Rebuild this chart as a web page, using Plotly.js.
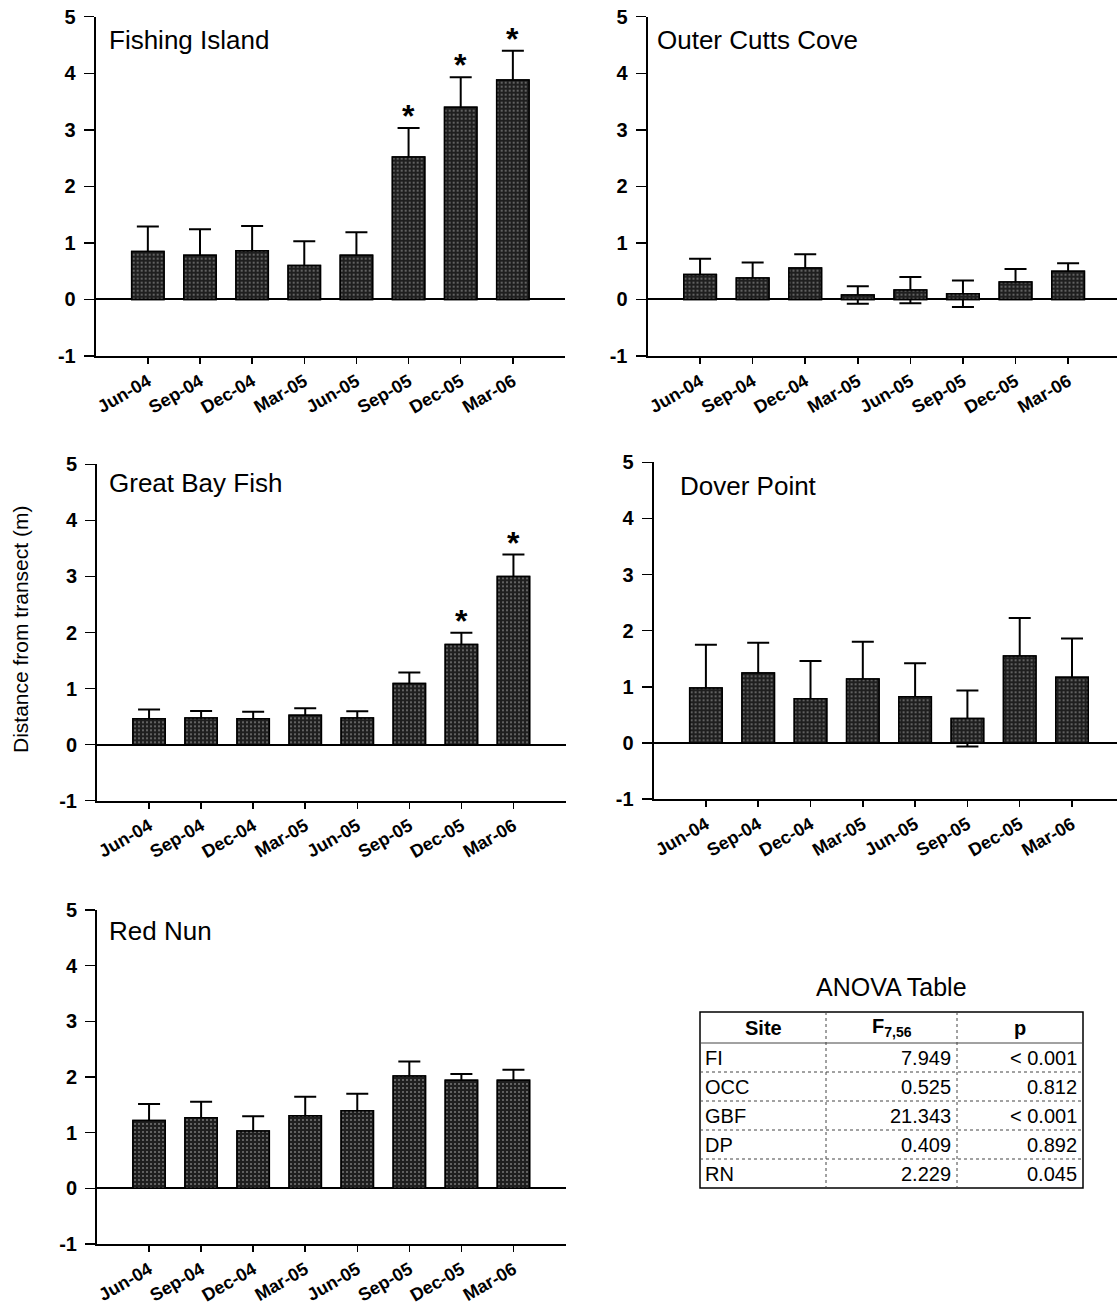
<!DOCTYPE html>
<html>
<head>
<meta charset="utf-8">
<script src="https://cdn.plot.ly/plotly-3.0.1.min.js"></script>
<style>
  html, body { margin: 0; padding: 0; background: #fff; }
  #chart { width: 1117px; height: 1304px; }
</style>
</head>
<body>
<div id="chart"></div>
<script>
// Sampling dates (x categories)
const months = ['Jun-04', 'Sep-04', 'Dec-04', 'Mar-05', 'Jun-05', 'Sep-05', 'Dec-05', 'Mar-06'];

// y tick values and their labels (plain hyphen for the minus sign)
const yTickVals = [-1, 0, 1, 2, 3, 4, 5];
const yTickText = ['-1', '0', '1', '2', '3', '4', '5'];

// Mean distance from transect (m) and standard error, per site
const fishingIslandMean = [0.85, 0.78, 0.86, 0.60, 0.78, 2.52, 3.40, 3.88];
const fishingIslandSE   = [0.44, 0.46, 0.44, 0.43, 0.41, 0.51, 0.53, 0.52];
const fishingIslandSig  = [0, 0, 0, 0, 0, 1, 1, 1];

const outerCuttsMean = [0.44, 0.38, 0.555, 0.08, 0.165, 0.10, 0.31, 0.50];
const outerCuttsSE   = [0.28, 0.275, 0.245, 0.155, 0.23, 0.235, 0.23, 0.14];
const outerCuttsSig  = [0, 0, 0, 0, 0, 0, 0, 0];

const greatBayMean = [0.46, 0.475, 0.46, 0.525, 0.475, 1.09, 1.785, 3.00];
const greatBaySE   = [0.165, 0.125, 0.125, 0.125, 0.12, 0.195, 0.21, 0.39];
const greatBaySig  = [0, 0, 0, 0, 0, 0, 1, 1];

const doverPointMean = [0.98, 1.245, 0.785, 1.137, 0.82, 0.435, 1.55, 1.17];
const doverPointSE   = [0.77, 0.54, 0.675, 0.663, 0.60, 0.50, 0.675, 0.69];
const doverPointSig  = [0, 0, 0, 0, 0, 0, 0, 0];

const redNunMean = [1.22, 1.27, 1.03, 1.305, 1.395, 2.02, 1.94, 1.94];
const redNunSE   = [0.295, 0.287, 0.263, 0.342, 0.305, 0.26, 0.114, 0.19];
const redNunSig  = [0, 0, 0, 0, 0, 0, 0, 0];

const siteNames = ['Fishing Island', 'Outer Cutts Cove', 'Great Bay Fish', 'Dover Point', 'Red Nun'];

// ANOVA results
const anovaHeader = ['Site', 'F<sub>7,56</sub>', 'p'];
const anovaSite = ['FI', 'OCC', 'GBF', 'DP', 'RN'];
const anovaF    = ['7.949', '0.525', '21.343', '0.409', '2.229'];
const anovaP    = ['&lt; 0.001', '0.812', '&lt; 0.001', '0.892', '0.045'];

const yTitle = 'Distance from transect (m)';

// ---- layout helpers (pixel positions -> paper fractions) ----
const W = 1117, H = 1304;
const fx = v => v / W;
const fy = v => 1 - v / H;
const FONT = 'Liberation Sans, Arial, Helvetica, sans-serif';

const series = [
  { mean: fishingIslandMean, se: fishingIslandSE, sig: fishingIslandSig },
  { mean: outerCuttsMean,    se: outerCuttsSE,    sig: outerCuttsSig },
  { mean: greatBayMean,      se: greatBaySE,      sig: greatBaySig },
  { mean: doverPointMean,    se: doverPointSE,    sig: doverPointSig },
  { mean: redNunMean,        se: redNunSE,        sig: redNunSig }
];

// plot boxes in pixels: [left, right], [top, bottom]
const boxes = [
  { x: [95.7, 565],   y: [16.7, 356],    xr: [-1, 8],    title: [107, 40] },
  { x: [647.5, 1117], y: [16.7, 356],    xr: [-1, 7.93], title: [655, 40] },
  { x: [97, 565.5],   y: [464.3, 800.7], xr: [-1, 8],    title: [107, 483] },
  { x: [653.6, 1117], y: [462.3, 799],   xr: [-1, 7.86], title: [678, 486] },
  { x: [97, 565.5],   y: [910, 1244],    xr: [-1, 8],    title: [107, 931] }
];

const data = [];
const layout = {
  width: W, height: H,
  margin: { l: 0, r: 0, t: 0, b: 0 },
  paper_bgcolor: '#fff', plot_bgcolor: 'rgba(0,0,0,0)',
  showlegend: false,
  barmode: 'overlay',
  font: { family: FONT, color: '#000' },
  annotations: [],
  shapes: []
};

const barMarker = {
  color: '#262626',
  line: { color: '#000', width: 1.5 },
  pattern: { shape: '.', fgcolor: '#777777', bgcolor: '#1f1f1f', size: 4, solidity: 0.2 }
};

series.forEach((s, i) => {
  const n = i === 0 ? '' : String(i + 1);
  const xa = 'x' + n, ya = 'y' + n;
  // bars carrying symmetric error bars
  data.push({
    type: 'bar', x: months, y: s.mean, xaxis: xa, yaxis: ya, width: 0.62,
    marker: barMarker,
    error_y: { type: 'data', array: s.se, symmetric: true, color: '#000', thickness: 2, width: 11 },
    hoverinfo: 'skip'
  });
  // same bars drawn again on top so the lower whisker stays hidden inside the bar
  data.push({
    type: 'bar', x: months, y: s.mean, xaxis: xa, yaxis: ya, width: 0.62,
    marker: barMarker, hoverinfo: 'skip'
  });
  // significance markers just above the error-bar caps
  s.sig.forEach((f, k) => {
    if (!f) return;
    layout.annotations.push({
      xref: xa, yref: ya, x: months[k], y: s.mean[k] + s.se[k],
      xanchor: 'center', yanchor: 'bottom', yshift: -8, showarrow: false, text: '*',
      font: { family: FONT, size: 32, weight: 700, color: '#000' }
    });
  });

  const b = boxes[i];
  layout['xaxis' + n] = {
    domain: [fx(b.x[0]), Math.min(1, fx(b.x[1]))],
    anchor: ya, type: 'category', range: b.xr,
    showline: true, linecolor: '#000', linewidth: 2,
    ticks: 'outside', ticklen: 6, tickwidth: 1.5, tickcolor: '#000',
    tickangle: -30, showgrid: false, zeroline: false,
    tickfont: { family: FONT, size: 18, weight: 700, color: '#000' }
  };
  layout['yaxis' + n] = {
    domain: [fy(b.y[1]), fy(b.y[0])],
    anchor: xa, range: [-1, 5],
    tickmode: 'array', tickvals: yTickVals, ticktext: yTickText,
    showline: true, linecolor: '#000', linewidth: 2,
    ticks: 'outside', ticklen: 10, tickwidth: 1.5, tickcolor: '#000',
    ticklabelstandoff: 4,
    showgrid: false, zeroline: true, zerolinecolor: '#000', zerolinewidth: 2,
    tickfont: { family: FONT, size: 20, weight: 700, color: '#000' }
  };
  layout.annotations.push({
    xref: 'paper', yref: 'paper', x: fx(b.title[0]), y: fy(b.title[1]),
    xanchor: 'left', yanchor: 'middle', showarrow: false, text: siteNames[i],
    font: { family: FONT, size: 26, color: '#000' }
  });
});

// shared y-axis title
layout.annotations.push({
  xref: 'paper', yref: 'paper', x: fx(20), y: fy(630), textangle: -90,
  xanchor: 'center', yanchor: 'middle', showarrow: false, text: yTitle,
  font: { family: FONT, size: 21, color: '#000' }
});

// ---- ANOVA table, drawn with shapes and annotations ----
const colEdges = [700, 826, 957, 1083];
const rowEdges = [1012, 1043, 1072, 1101, 1130, 1159, 1188];

layout.annotations.push({
  xref: 'paper', yref: 'paper', x: fx((colEdges[0] + colEdges[3]) / 2), y: fy(987),
  xanchor: 'center', yanchor: 'middle', showarrow: false, text: 'ANOVA Table',
  font: { family: FONT, size: 25, color: '#000' }
});

// outer frame
layout.shapes.push({
  type: 'rect', xref: 'paper', yref: 'paper',
  x0: fx(colEdges[0]), x1: fx(colEdges[3]), y0: fy(rowEdges[rowEdges.length - 1]), y1: fy(rowEdges[0]),
  line: { color: '#000', width: 1.5 }, fillcolor: 'rgba(0,0,0,0)'
});
// inner grid lines
for (let r = 1; r < rowEdges.length - 1; r++) {
  layout.shapes.push({
    type: 'line', xref: 'paper', yref: 'paper',
    x0: fx(colEdges[0]), x1: fx(colEdges[3]), y0: fy(rowEdges[r]), y1: fy(rowEdges[r]),
    line: { color: '#444', width: 1, dash: r === 1 ? 'solid' : 'dot' }
  });
}
for (let c = 1; c < colEdges.length - 1; c++) {
  layout.shapes.push({
    type: 'line', xref: 'paper', yref: 'paper',
    x0: fx(colEdges[c]), x1: fx(colEdges[c]), y0: fy(rowEdges[0]), y1: fy(rowEdges[rowEdges.length - 1]),
    line: { color: '#444', width: 1, dash: 'dot' }
  });
}
// header texts
anovaHeader.forEach((t, c) => {
  layout.annotations.push({
    xref: 'paper', yref: 'paper',
    x: fx((colEdges[c] + colEdges[c + 1]) / 2), y: fy((rowEdges[0] + rowEdges[1]) / 2),
    xanchor: 'center', yanchor: 'middle', showarrow: false, text: '<b>' + t + '</b>',
    font: { family: FONT, size: 20, color: '#000' }
  });
});
// body texts
const columns = [anovaSite, anovaF, anovaP];
columns.forEach((col, c) => {
  col.forEach((t, r) => {
    const left = c === 0;
    layout.annotations.push({
      xref: 'paper', yref: 'paper',
      x: fx(left ? colEdges[c] + 3 : colEdges[c + 1] - 4),
      y: fy((rowEdges[r + 1] + rowEdges[r + 2]) / 2),
      xanchor: left ? 'left' : 'right', yanchor: 'middle', showarrow: false, text: t,
      font: { family: FONT, size: 20, color: '#000' }
    });
  });
});

Plotly.newPlot('chart', data, layout, { staticPlot: true, displayModeBar: false });
</script>
</body>
</html>
